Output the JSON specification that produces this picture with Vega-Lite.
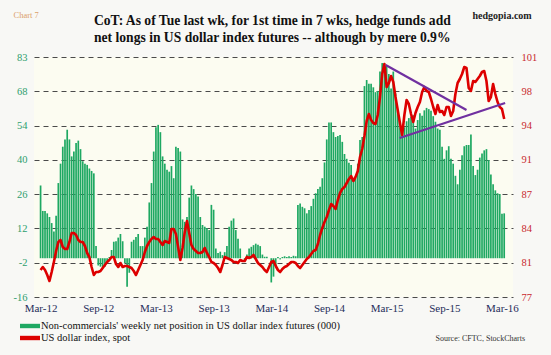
{
  "$schema": "https://vega.github.io/schema/vega-lite/v6.json",
  "width": 479,
  "height": 240,
  "autosize": {"type": "none"},
  "padding": {"left": 34, "top": 57, "right": 38, "bottom": 58},
  "background": "#f8f8f5",
  "config": {"view": {"fill": "#fcfcf1", "stroke": null}, "font": "Liberation Serif"},
  "title": {
    "text": ["CoT: As of Tue last wk, for 1st time in 7 wks, hedge funds add", "net longs in US dollar index futures -- although by mere 0.9%"],
    "anchor": "start",
    "frame": "group",
    "dx": 60,
    "dy": 47,
    "font": "Liberation Serif",
    "fontSize": 13.6,
    "fontWeight": "bold",
    "color": "#111111",
    "lineHeight": 17,
    "offset": 12
  },
  "datasets": {
    "weekly": [
      {"date": "2012-03-13", "net": 30, "dxy": 79.7},
      {"date": "2012-03-20", "net": 19.5, "dxy": 80},
      {"date": "2012-03-27", "net": 19.5, "dxy": 79.7},
      {"date": "2012-04-03", "net": 18.5, "dxy": 79.2},
      {"date": "2012-04-10", "net": 17, "dxy": 78.6},
      {"date": "2012-04-17", "net": 14.5, "dxy": 79.5},
      {"date": "2012-04-24", "net": 11, "dxy": 80.5},
      {"date": "2012-05-01", "net": 17.5, "dxy": 81.6},
      {"date": "2012-05-08", "net": 31, "dxy": 82.5},
      {"date": "2012-05-15", "net": 39, "dxy": 82.7},
      {"date": "2012-05-22", "net": 46, "dxy": 82},
      {"date": "2012-05-29", "net": 49, "dxy": 81.8},
      {"date": "2012-06-05", "net": 53, "dxy": 81.8},
      {"date": "2012-06-12", "net": 49, "dxy": 82.5},
      {"date": "2012-06-19", "net": 42, "dxy": 83.4},
      {"date": "2012-06-26", "net": 44, "dxy": 83.4},
      {"date": "2012-07-03", "net": 47.5, "dxy": 83.2},
      {"date": "2012-07-10", "net": 48.5, "dxy": 82.7},
      {"date": "2012-07-17", "net": 45, "dxy": 82.5},
      {"date": "2012-07-24", "net": 40, "dxy": 82.5},
      {"date": "2012-07-31", "net": 39, "dxy": 82.1},
      {"date": "2012-08-07", "net": 38.5, "dxy": 81.4},
      {"date": "2012-08-14", "net": 37, "dxy": 81},
      {"date": "2012-08-21", "net": 36, "dxy": 80},
      {"date": "2012-08-28", "net": 35, "dxy": 79.2},
      {"date": "2012-09-04", "net": 5, "dxy": 79.5},
      {"date": "2012-09-11", "net": -3, "dxy": 79.5},
      {"date": "2012-09-18", "net": -3.5, "dxy": 79.6},
      {"date": "2012-09-25", "net": -4, "dxy": 79.9},
      {"date": "2012-10-02", "net": -3.5, "dxy": 80.2},
      {"date": "2012-10-09", "net": -1.5, "dxy": 80.5},
      {"date": "2012-10-16", "net": 0.5, "dxy": 80.7},
      {"date": "2012-10-23", "net": 3.4, "dxy": 81},
      {"date": "2012-10-30", "net": 6.8, "dxy": 81},
      {"date": "2012-11-06", "net": 7, "dxy": 80.3},
      {"date": "2012-11-13", "net": 8.5, "dxy": 80},
      {"date": "2012-11-20", "net": 10, "dxy": 80.4},
      {"date": "2012-11-27", "net": 7, "dxy": 80},
      {"date": "2012-12-04", "net": -2, "dxy": 80.1},
      {"date": "2012-12-11", "net": -11.8, "dxy": 80.1},
      {"date": "2012-12-18", "net": -6, "dxy": 80},
      {"date": "2012-12-25", "net": 6.8, "dxy": 79.9},
      {"date": "2013-01-01", "net": 7.6, "dxy": 79.6},
      {"date": "2013-01-08", "net": 8.8, "dxy": 79.2},
      {"date": "2013-01-15", "net": 10, "dxy": 79.7},
      {"date": "2013-01-22", "net": 5, "dxy": 80.2},
      {"date": "2013-01-29", "net": 5, "dxy": 80.7},
      {"date": "2013-02-05", "net": 8.5, "dxy": 81.5},
      {"date": "2013-02-12", "net": 13, "dxy": 82.1},
      {"date": "2013-02-19", "net": 23, "dxy": 82.5},
      {"date": "2013-02-26", "net": 31, "dxy": 82.8},
      {"date": "2013-03-05", "net": 44, "dxy": 83},
      {"date": "2013-03-12", "net": 54, "dxy": 82.8},
      {"date": "2013-03-19", "net": 55, "dxy": 82.8},
      {"date": "2013-03-26", "net": 52, "dxy": 82.5},
      {"date": "2013-04-02", "net": 42, "dxy": 82.2},
      {"date": "2013-04-09", "net": 39, "dxy": 82.6},
      {"date": "2013-04-16", "net": 36.5, "dxy": 82.5},
      {"date": "2013-04-23", "net": 35.7, "dxy": 82.4},
      {"date": "2013-04-30", "net": 38, "dxy": 83.8},
      {"date": "2013-05-07", "net": 33, "dxy": 83.8},
      {"date": "2013-05-14", "net": 46, "dxy": 83.3},
      {"date": "2013-05-21", "net": 45.5, "dxy": 82},
      {"date": "2013-05-28", "net": 44, "dxy": 80.7},
      {"date": "2013-06-04", "net": 16, "dxy": 81.9},
      {"date": "2013-06-11", "net": 15, "dxy": 83.5},
      {"date": "2013-06-18", "net": 17, "dxy": 84.6},
      {"date": "2013-06-25", "net": 25, "dxy": 83.4},
      {"date": "2013-07-02", "net": 30, "dxy": 82.2},
      {"date": "2013-07-09", "net": 28.5, "dxy": 81.8},
      {"date": "2013-07-16", "net": 26.5, "dxy": 81.6},
      {"date": "2013-07-23", "net": 25.5, "dxy": 81.4},
      {"date": "2013-07-30", "net": 17, "dxy": 81.4},
      {"date": "2013-08-06", "net": 13.7, "dxy": 81.5},
      {"date": "2013-08-13", "net": 13, "dxy": 81.9},
      {"date": "2013-08-20", "net": 12.5, "dxy": 81.4},
      {"date": "2013-08-27", "net": 11.6, "dxy": 81},
      {"date": "2013-09-03", "net": 22, "dxy": 80.5},
      {"date": "2013-09-10", "net": 20, "dxy": 80.4},
      {"date": "2013-09-17", "net": 4, "dxy": 80.2},
      {"date": "2013-09-24", "net": 2.2, "dxy": 79.9},
      {"date": "2013-10-01", "net": 2.7, "dxy": 79.5},
      {"date": "2013-10-08", "net": 1.3, "dxy": 80.2},
      {"date": "2013-10-15", "net": 2.5, "dxy": 81},
      {"date": "2013-10-22", "net": 5, "dxy": 80.9},
      {"date": "2013-10-29", "net": 13, "dxy": 80.8},
      {"date": "2013-11-05", "net": 15.5, "dxy": 80.7},
      {"date": "2013-11-12", "net": 16.4, "dxy": 80.5},
      {"date": "2013-11-19", "net": 11.6, "dxy": 80.5},
      {"date": "2013-11-26", "net": 8, "dxy": 80.4},
      {"date": "2013-12-03", "net": 4, "dxy": 80.7},
      {"date": "2013-12-10", "net": 0, "dxy": 80.6},
      {"date": "2013-12-17", "net": -1, "dxy": 80.6},
      {"date": "2013-12-24", "net": 1.5, "dxy": 81},
      {"date": "2013-12-31", "net": 4, "dxy": 80.9},
      {"date": "2014-01-07", "net": 4.7, "dxy": 81},
      {"date": "2014-01-14", "net": 5.4, "dxy": 81.2},
      {"date": "2014-01-21", "net": 6, "dxy": 80.8},
      {"date": "2014-01-28", "net": 5.6, "dxy": 80.4},
      {"date": "2014-02-04", "net": 5, "dxy": 80.2},
      {"date": "2014-02-11", "net": 1.5, "dxy": 80},
      {"date": "2014-02-18", "net": 0.6, "dxy": 79.7},
      {"date": "2014-02-25", "net": 0.6, "dxy": 79.5},
      {"date": "2014-03-04", "net": 0, "dxy": 80},
      {"date": "2014-03-11", "net": -10, "dxy": 80.5},
      {"date": "2014-03-18", "net": -7.6, "dxy": 80.6},
      {"date": "2014-03-25", "net": -3, "dxy": 80.1},
      {"date": "2014-04-01", "net": 0.5, "dxy": 79.7},
      {"date": "2014-04-08", "net": -0.5, "dxy": 79.5},
      {"date": "2014-04-15", "net": 0.5, "dxy": 79.8},
      {"date": "2014-04-22", "net": 0.8, "dxy": 80},
      {"date": "2014-04-29", "net": 0.5, "dxy": 80.1},
      {"date": "2014-05-06", "net": 0.8, "dxy": 80.3},
      {"date": "2014-05-13", "net": 0.5, "dxy": 80.5},
      {"date": "2014-05-20", "net": 1, "dxy": 80.5},
      {"date": "2014-05-27", "net": 0.8, "dxy": 80.4},
      {"date": "2014-06-03", "net": 22, "dxy": 80.1},
      {"date": "2014-06-10", "net": 22.6, "dxy": 79.9},
      {"date": "2014-06-17", "net": 21.2, "dxy": 80.2},
      {"date": "2014-06-24", "net": 20.6, "dxy": 80.5},
      {"date": "2014-07-01", "net": 18.5, "dxy": 80.8},
      {"date": "2014-07-08", "net": 19.9, "dxy": 81},
      {"date": "2014-07-15", "net": 21.5, "dxy": 81.3},
      {"date": "2014-07-22", "net": 24.5, "dxy": 81.6},
      {"date": "2014-07-29", "net": 26.8, "dxy": 81.7},
      {"date": "2014-08-05", "net": 28.5, "dxy": 82.3},
      {"date": "2014-08-12", "net": 29.5, "dxy": 83.2},
      {"date": "2014-08-19", "net": 33, "dxy": 83.9},
      {"date": "2014-08-26", "net": 39.5, "dxy": 84.5},
      {"date": "2014-09-02", "net": 49, "dxy": 85},
      {"date": "2014-09-09", "net": 56, "dxy": 85.7},
      {"date": "2014-09-16", "net": 56, "dxy": 86.3},
      {"date": "2014-09-23", "net": 52, "dxy": 86.1},
      {"date": "2014-09-30", "net": 50, "dxy": 85.8},
      {"date": "2014-10-07", "net": 50.4, "dxy": 86.7},
      {"date": "2014-10-14", "net": 50.8, "dxy": 87.4},
      {"date": "2014-10-21", "net": 48, "dxy": 87.8},
      {"date": "2014-10-28", "net": 43, "dxy": 88},
      {"date": "2014-11-04", "net": 41, "dxy": 88.4},
      {"date": "2014-11-11", "net": 39.4, "dxy": 88.8},
      {"date": "2014-11-18", "net": 38.5, "dxy": 89.1},
      {"date": "2014-11-25", "net": 32, "dxy": 88.6},
      {"date": "2014-12-02", "net": 33, "dxy": 89},
      {"date": "2014-12-09", "net": 39, "dxy": 89.6},
      {"date": "2014-12-16", "net": 48.8, "dxy": 91},
      {"date": "2014-12-23", "net": 50, "dxy": 91.8},
      {"date": "2014-12-30", "net": 71, "dxy": 93.1},
      {"date": "2015-01-06", "net": 73.5, "dxy": 94.6},
      {"date": "2015-01-13", "net": 72, "dxy": 95.3},
      {"date": "2015-01-20", "net": 72, "dxy": 94.7},
      {"date": "2015-01-27", "net": 70.5, "dxy": 94.4},
      {"date": "2015-02-03", "net": 68.5, "dxy": 94.3},
      {"date": "2015-02-10", "net": 69, "dxy": 95.2},
      {"date": "2015-02-17", "net": 77, "dxy": 97},
      {"date": "2015-02-24", "net": 80.5, "dxy": 99.3},
      {"date": "2015-03-03", "net": 80.5, "dxy": 100.3},
      {"date": "2015-03-10", "net": 79.5, "dxy": 98},
      {"date": "2015-03-17", "net": 76, "dxy": 98.4},
      {"date": "2015-03-24", "net": 70, "dxy": 99.1},
      {"date": "2015-03-31", "net": 77, "dxy": 98.5},
      {"date": "2015-04-07", "net": 68, "dxy": 97},
      {"date": "2015-04-14", "net": 61, "dxy": 95.7},
      {"date": "2015-04-21", "net": 54, "dxy": 94.4},
      {"date": "2015-04-28", "net": 50.8, "dxy": 93.2},
      {"date": "2015-05-05", "net": 54, "dxy": 95.2},
      {"date": "2015-05-12", "net": 56.5, "dxy": 96.7},
      {"date": "2015-05-19", "net": 57.8, "dxy": 96.3},
      {"date": "2015-05-26", "net": 58.5, "dxy": 95.3},
      {"date": "2015-06-02", "net": 59, "dxy": 94.5},
      {"date": "2015-06-09", "net": 53.5, "dxy": 95.4},
      {"date": "2015-06-16", "net": 57, "dxy": 96},
      {"date": "2015-06-23", "net": 59.8, "dxy": 96.5},
      {"date": "2015-06-30", "net": 58.8, "dxy": 97.5},
      {"date": "2015-07-07", "net": 61, "dxy": 98},
      {"date": "2015-07-14", "net": 62, "dxy": 97.6},
      {"date": "2015-07-21", "net": 61.5, "dxy": 97.5},
      {"date": "2015-07-28", "net": 60.8, "dxy": 96.8},
      {"date": "2015-08-04", "net": 58.6, "dxy": 96},
      {"date": "2015-08-11", "net": 56.3, "dxy": 95.3},
      {"date": "2015-08-18", "net": 53.5, "dxy": 96.2},
      {"date": "2015-08-25", "net": 53, "dxy": 95.5},
      {"date": "2015-09-01", "net": 46, "dxy": 95.6},
      {"date": "2015-09-08", "net": 41, "dxy": 95.2},
      {"date": "2015-09-15", "net": 44.5, "dxy": 96},
      {"date": "2015-09-22", "net": 46.2, "dxy": 96},
      {"date": "2015-09-29", "net": 41, "dxy": 95.1},
      {"date": "2015-10-06", "net": 39, "dxy": 95.6},
      {"date": "2015-10-13", "net": 34, "dxy": 97.3},
      {"date": "2015-10-20", "net": 30.5, "dxy": 98.4},
      {"date": "2015-10-27", "net": 36.5, "dxy": 98.8},
      {"date": "2015-11-03", "net": 42.5, "dxy": 99.3},
      {"date": "2015-11-10", "net": 46.2, "dxy": 100},
      {"date": "2015-11-17", "net": 46.7, "dxy": 99.9},
      {"date": "2015-11-24", "net": 46.7, "dxy": 97.9},
      {"date": "2015-12-01", "net": 51, "dxy": 97.6},
      {"date": "2015-12-08", "net": 38, "dxy": 98.6},
      {"date": "2015-12-15", "net": 34.3, "dxy": 98.5},
      {"date": "2015-12-22", "net": 36.5, "dxy": 98.8},
      {"date": "2015-12-29", "net": 41.5, "dxy": 99.1},
      {"date": "2016-01-05", "net": 43.2, "dxy": 99.5},
      {"date": "2016-01-12", "net": 44.5, "dxy": 99.6},
      {"date": "2016-01-19", "net": 45, "dxy": 98.6},
      {"date": "2016-01-26", "net": 40.5, "dxy": 96.6},
      {"date": "2016-02-02", "net": 34.5, "dxy": 97},
      {"date": "2016-02-09", "net": 30.5, "dxy": 98.3},
      {"date": "2016-02-16", "net": 28, "dxy": 97.3},
      {"date": "2016-02-23", "net": 26.8, "dxy": 96.5},
      {"date": "2016-03-01", "net": 26.5, "dxy": 96},
      {"date": "2016-03-08", "net": 18.3, "dxy": 95.8},
      {"date": "2016-03-15", "net": 18.5, "dxy": 94.8}
    ],
    "trend": [
      {"seg": "a", "date": "2015-03-07", "dxy": 100.2},
      {"seg": "a", "date": "2015-11-17", "dxy": 95.7},
      {"seg": "b", "date": "2015-04-20", "dxy": 92.9},
      {"seg": "b", "date": "2016-03-18", "dxy": 96.4}
    ]
  },
  "layer": [
    {
      "data": {"name": "weekly"},
      "mark": {"type": "bar", "size": 1.7},
      "encoding": {
        "x": {
          "field": "date", "type": "temporal",
          "scale": {"type": "utc", "domain": [{"year": 2012, "month": 3, "date": 8, "utc": true}, {"year": 2016, "month": 3, "date": 27, "utc": true}]},
          "axis": {
            "values": [
              {"year": 2012, "month": 3, "date": 13, "utc": true},
              {"year": 2012, "month": 9, "date": 11, "utc": true},
              {"year": 2013, "month": 3, "date": 12, "utc": true},
              {"year": 2013, "month": 9, "date": 10, "utc": true},
              {"year": 2014, "month": 3, "date": 11, "utc": true},
              {"year": 2014, "month": 9, "date": 9, "utc": true},
              {"year": 2015, "month": 3, "date": 10, "utc": true},
              {"year": 2015, "month": 9, "date": 8, "utc": true},
              {"year": 2016, "month": 3, "date": 8, "utc": true}
            ],
            "format": "%b-%y",
            "grid": false, "domain": false, "ticks": false,
            "labelFont": "Liberation Serif", "labelFontSize": 11, "labelColor": "#1f2d5a", "labelPadding": 5,
            "labelFlush": false, "labelOverlap": false,
            "title": "Source: CFTC, StockCharts",
            "titleFont": "Liberation Serif", "titleFontSize": 8, "titleFontWeight": "normal", "titleColor": "#333333",
            "titleX": 401, "titleY": 43, "titleAlign": "left", "titleBaseline": "alphabetic", "titleAnchor": null
          }
        },
        "y": {
          "field": "net", "type": "quantitative",
          "scale": {"domain": [-16, 83], "nice": false, "zero": false},
          "axis": {
            "orient": "left",
            "values": [-16, -1.857, 12.286, 26.429, 40.571, 54.714, 68.857, 83],
            "labelExpr": "datum.value < -10 ? '-16' : datum.value < 0 ? '-2' : datum.value < 20 ? '12' : datum.value < 30 ? '26' : datum.value < 45 ? '40' : datum.value < 60 ? '54' : datum.value < 75 ? '68' : '83'",
            "grid": true, "gridDash": [5, 4], "gridColor": "#4a4a4a", "gridWidth": 1,
            "domain": false, "ticks": false,
            "labelFont": "Liberation Serif", "labelFontSize": 10.5, "labelColor": "#2e9e6e", "labelPadding": 7,
            "title": "Chart 7", "titleAngle": 0, "titleX": -21, "titleY": -40, "titleAlign": "left", "titleBaseline": "alphabetic",
            "titleFont": "Liberation Serif", "titleFontSize": 8.5, "titleFontWeight": "normal", "titleColor": "#dba06a"
          }
        },
        "color": {
          "datum": "Non-commercials' weekly net position in US dollar index futures (000)",
          "type": "nominal",
          "scale": {
            "domain": ["Non-commercials' weekly net position in US dollar index futures (000)", "US dollar index, spot"],
            "range": ["#1ea862", "#dd0000"]
          },
          "legend": {
            "orient": "none", "legendX": -14, "legendY": 263, "title": null,
            "symbolType": "M-1,-0.22H1V0.22H-1Z", "symbolSize": 400, "symbolStrokeWidth": 0,
            "labelFont": "Liberation Serif", "labelFontSize": 10.5, "labelColor": "#111111", "labelOffset": 1,
            "clipHeight": 12, "rowPadding": 0, "padding": 0, "labelLimit": 400
          }
        }
      }
    },
    {
      "data": {"name": "weekly"},
      "mark": {"type": "line", "strokeWidth": 2.6, "strokeJoin": "round"},
      "encoding": {
        "x": {
          "field": "date", "type": "temporal",
          "scale": {"type": "utc", "domain": [{"year": 2012, "month": 3, "date": 8, "utc": true}, {"year": 2016, "month": 3, "date": 27, "utc": true}]}
        },
        "y": {
          "field": "dxy", "type": "quantitative",
          "scale": {"domain": [77, 101], "nice": false, "zero": false},
          "axis": {
            "orient": "right",
            "values": [77, 80.4286, 83.857, 87.2857, 90.714, 94.143, 97.571, 101],
            "labelExpr": "datum.value < 79 ? '77' : datum.value < 82 ? '81' : datum.value < 85 ? '84' : datum.value < 89 ? '87' : datum.value < 92 ? '91' : datum.value < 96 ? '94' : datum.value < 99 ? '98' : '101'",
            "grid": false, "domain": false, "ticks": false,
            "labelFont": "Liberation Serif", "labelFontSize": 10.5, "labelColor": "#c8282d", "labelPadding": 8,
            "title": "hedgopia.com", "titleAngle": 0, "titleX": -41, "titleY": -39, "titleAlign": "left", "titleBaseline": "alphabetic",
            "titleFont": "Liberation Serif", "titleFontSize": 10, "titleFontWeight": "bold", "titleColor": "#222222"
          }
        },
        "color": {"datum": "US dollar index, spot", "type": "nominal"}
      }
    },
    {
      "data": {"name": "trend"},
      "mark": {"type": "line", "color": "#7030a0", "strokeWidth": 2.2},
      "encoding": {
        "x": {
          "field": "date", "type": "temporal",
          "scale": {"type": "utc", "domain": [{"year": 2012, "month": 3, "date": 8, "utc": true}, {"year": 2016, "month": 3, "date": 27, "utc": true}]}
        },
        "y": {
          "field": "dxy", "type": "quantitative",
          "scale": {"domain": [77, 101], "nice": false, "zero": false},
          "axis": null
        },
        "detail": {"field": "seg", "type": "nominal"}
      }
    }
  ],
  "resolve": {"scale": {"y": "independent"}}
}
